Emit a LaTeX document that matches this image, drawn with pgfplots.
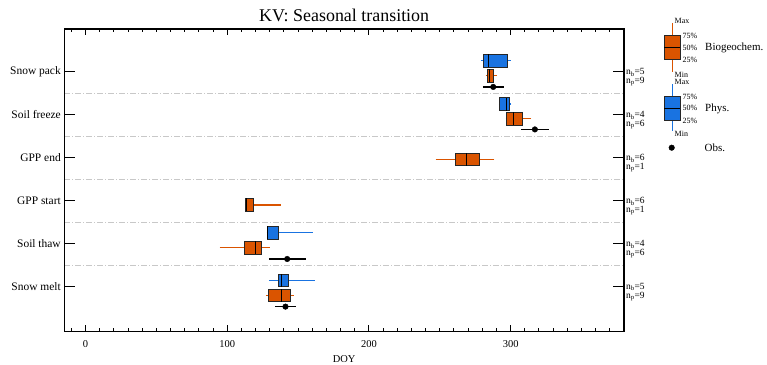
\documentclass[border=0pt]{standalone}
\usepackage{pgfplots}
\pgfplotsset{compat=1.18}
\usepgfplotslibrary{statistics}
\usepackage{fontspec}
\setmainfont{Liberation Serif}
\definecolor{bgc}{RGB}{218,84,0}
\definecolor{phc}{RGB}{25,115,225}
\definecolor{sepc}{RGB}{200,200,200}
\pgfplotsset{
  bgbox/.style={boxplot/draw direction=x, boxplot/box extend=0.3, boxplot/whisker extend=0,
    fill=bgc, draw=black!85, line width=0.9bp, solid,
    boxplot/every whisker/.style={draw=bgc, line width=1.3bp},
    boxplot/every median/.style={draw=black, line width=1bp}},
  phbox/.style={bgbox, fill=phc, boxplot/every whisker/.style={draw=phc, line width=1.3bp}},
  lgbg/.style={boxplot/draw direction=y, boxplot/box extend=15.7, boxplot/whisker extend=0,
    fill=bgc, draw=black!85, line width=0.9bp, solid,
    boxplot/every whisker/.style={draw=bgc, line width=1.3bp},
    boxplot/every median/.style={draw=black, line width=1bp}},
  lgph/.style={lgbg, fill=phc, boxplot/every whisker/.style={draw=phc, line width=1.3bp}},
  sep/.style={draw=sepc, line width=0.9bp, dash pattern=on 6bp off 2bp on 1bp off 2bp},
  obsl/.style={black, line width=1.3bp},
  obsp/.style={black, only marks, mark=*, mark size=2.8bp},
}
\begin{document}
\begin{tikzpicture}
\path[use as bounding box] (0,0) rectangle (767bp,365bp);
\begin{axis}[
  at={(64.3bp,33.5bp)}, anchor=south west,
  scale only axis, width=559.7bp, height=302.5bp,
  xmin=-15, xmax=380, ymin=-0.05, ymax=7,
  xtick={0,100,200,300},
  minor xtick={-10,10,20,30,40,50,60,70,80,90,110,120,130,140,150,160,170,180,190,210,220,230,240,250,260,270,280,290,310,320,330,340,350,360,370},
  xtick pos=both, xticklabel pos=lower, tick align=inside,
  major tick length=6bp, minor tick length=3bp,
  tick style={black, line width=1bp},
  ytick={1,2,3,4,5,6},
  yticklabels={Snow melt,Soil thaw,GPP start,GPP end,Soil freeze,Snow pack},
  ytick style={draw=none},
  yticklabel style={font=\fontsize{11.5}{12}\selectfont},
  xticklabel style={font=\fontsize{10.5}{12}\selectfont, yshift=-6bp},
  /pgf/number format/assume math mode=true,
  xlabel={DOY}, xlabel style={font=\fontsize{10.5}{12}\selectfont, yshift=-1bp},
  title={KV: Seasonal transition}, title style={font=\fontsize{18}{20}\selectfont, yshift=-2bp},
  axis line style={line width=1.1bp},
]
% separators
\addplot[sep] coordinates {(-15,1.5) (380,1.5)};
\addplot[sep] coordinates {(-15,2.5) (380,2.5)};
\addplot[sep] coordinates {(-15,3.5) (380,3.5)};
\addplot[sep] coordinates {(-15,4.5) (380,4.5)};
\addplot[sep] coordinates {(-15,5.5) (380,5.5)};
% Snow pack
\addplot[phbox, boxplot prepared={draw position=6.26, lower whisker=279.3, lower quartile=281.1, median=284.2, upper quartile=298.0, upper whisker=299.9}] coordinates {};
\addplot[bgbox, boxplot prepared={draw position=5.91, lower whisker=282.3, lower quartile=283.5, median=285.1, upper quartile=287.7, upper whisker=290.5}] coordinates {};
\addplot[obsl] coordinates {(280.4,5.65) (295.0,5.65)};
\addplot[obsp] coordinates {(287.7,5.65)};
% Soil freeze
\addplot[phbox, boxplot prepared={draw position=5.25, lower whisker=291.7, lower quartile=292.4, median=297.3, upper quartile=299.4, upper whisker=300.4}] coordinates {};
\addplot[bgbox, boxplot prepared={draw position=4.91, lower whisker=296.4, lower quartile=296.9, median=301.8, upper quartile=308.4, upper whisker=314.5}] coordinates {};
\addplot[obsl] coordinates {(307.5,4.66) (327.0,4.66)};
\addplot[obsp] coordinates {(317.1,4.66)};
% GPP end
\addplot[bgbox, boxplot prepared={draw position=3.96, lower whisker=247.0, lower quartile=261.1, median=268.7, upper quartile=278.3, upper whisker=288.6}] coordinates {};
% GPP start
\addplot[bgbox, boxplot prepared={draw position=2.90, lower whisker=112.4, lower quartile=112.9, median=113.8, upper quartile=118.6, upper whisker=137.6}] coordinates {};
% Soil thaw
\addplot[phbox, boxplot prepared={draw position=2.25, lower whisker=127.7, lower quartile=128.4, median=128.6, upper quartile=136.0, upper whisker=160.4}] coordinates {};
\addplot[bgbox, boxplot prepared={draw position=1.90, lower whisker=94.6, lower quartile=112.0, median=120.0, upper quartile=124.0, upper whisker=129.9}] coordinates {};
\addplot[obsl] coordinates {(129.4,1.64) (155.8,1.64)};
\addplot[obsp] coordinates {(142.3,1.64)};
% Snow melt
\addplot[phbox, boxplot prepared={draw position=1.14, lower whisker=129.4, lower quartile=136.0, median=138.3, upper quartile=143.1, upper whisker=161.8}] coordinates {};
\addplot[bgbox, boxplot prepared={draw position=0.79, lower whisker=127.2, lower quartile=129.4, median=138.5, upper quartile=144.7, upper whisker=147.0}] coordinates {};
\addplot[obsl] coordinates {(133.9,0.53) (148.7,0.53)};
\addplot[obsp] coordinates {(141.1,0.53)};
\end{axis}
% overlay axis for y ticks and right labels
\begin{axis}[
  at={(64.3bp,33.5bp)}, anchor=south west,
  scale only axis, width=559.7bp, height=302.5bp,
  xmin=-15, xmax=380, ymin=-0.05, ymax=7,
  xtick=\empty,
  ytick={1,2,3,4,5,6},
  yticklabels={{n\textsubscript{b}=5\\n\textsubscript{p}=9},{n\textsubscript{b}=4\\n\textsubscript{p}=6},{n\textsubscript{b}=6\\n\textsubscript{p}=1},{n\textsubscript{b}=6\\n\textsubscript{p}=1},{n\textsubscript{b}=4\\n\textsubscript{p}=6},{n\textsubscript{b}=5\\n\textsubscript{p}=9}},
  yticklabel pos=right, ytick pos=both, tick align=inside,
  major tick length=11bp,
  tick style={black, line width=1.1bp},
  yticklabel style={font=\fontsize{9.5}{7.6}\selectfont, align=left, anchor=west, yshift=-5.5bp, xshift=-1.5bp},
  axis line style={line width=1.1bp},
]
\addplot[draw=none] coordinates {(0,1)};
\end{axis}
% legend axis
\begin{axis}[
  at={(640bp,205bp)}, anchor=south west,
  scale only axis, width=127bp, height=160bp,
  xmin=640, xmax=767, ymin=0, ymax=160, y dir=reverse,
  hide axis, clip=false,
]
\addplot[lgbg, boxplot prepared={draw position=672.15, lower whisker=23, lower quartile=35.7, median=47.8, upper quartile=59.5, upper whisker=72}] coordinates {};
\addplot[lgph, boxplot prepared={draw position=672.15, lower whisker=84.3, lower quartile=96.7, median=108.3, upper quartile=120, upper whisker=131}] coordinates {};
\addplot[obsp] coordinates {(671.7,147.7)};
\node[anchor=west, font=\fontsize{8}{8}\selectfont, inner sep=0pt] at (axis cs:674.5,20.5) {Max};
\node[anchor=west, font=\fontsize{8}{8}\selectfont, inner sep=0pt] at (axis cs:682.5,35.5) {75\%};
\node[anchor=west, font=\fontsize{8}{8}\selectfont, inner sep=0pt] at (axis cs:682.5,47.8) {50\%};
\node[anchor=west, font=\fontsize{8}{8}\selectfont, inner sep=0pt] at (axis cs:682.5,60) {25\%};
\node[anchor=west, font=\fontsize{8}{8}\selectfont, inner sep=0pt] at (axis cs:674.5,74.5) {Min};
\node[anchor=west, font=\fontsize{8}{8}\selectfont, inner sep=0pt] at (axis cs:674.5,82) {Max};
\node[anchor=west, font=\fontsize{8}{8}\selectfont, inner sep=0pt] at (axis cs:682.5,96.5) {75\%};
\node[anchor=west, font=\fontsize{8}{8}\selectfont, inner sep=0pt] at (axis cs:682.5,108.3) {50\%};
\node[anchor=west, font=\fontsize{8}{8}\selectfont, inner sep=0pt] at (axis cs:682.5,120.5) {25\%};
\node[anchor=west, font=\fontsize{8}{8}\selectfont, inner sep=0pt] at (axis cs:674.5,133.5) {Min};
\node[anchor=west, font=\fontsize{11}{12}\selectfont, inner sep=0pt] at (axis cs:705,47.8) {Biogeochem.};
\node[anchor=west, font=\fontsize{11}{12}\selectfont, inner sep=0pt] at (axis cs:705,108.5) {Phys.};
\node[anchor=west, font=\fontsize{11}{12}\selectfont, inner sep=0pt] at (axis cs:704.5,147.7) {Obs.};
\end{axis}
\end{tikzpicture}
\end{document}
